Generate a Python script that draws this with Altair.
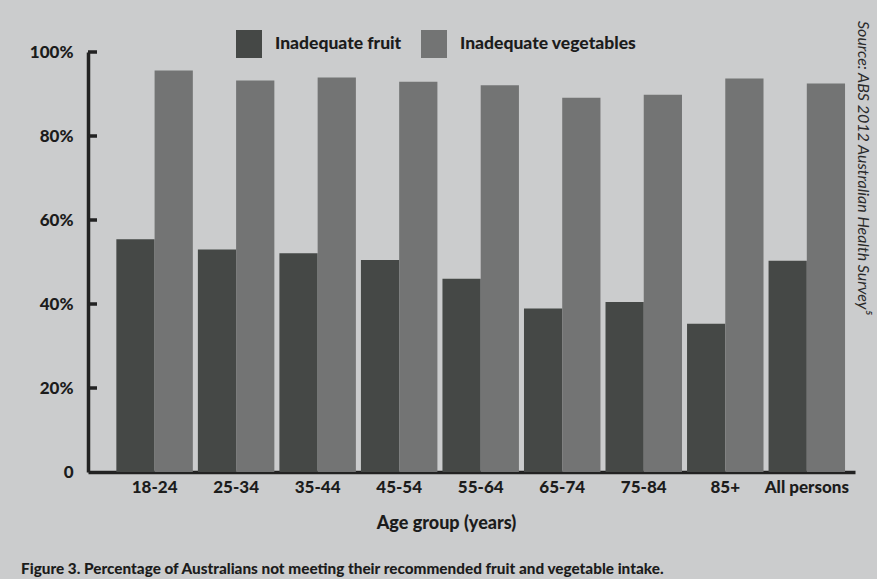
import altair as alt
import pandas as pd

age_groups = ["18-24", "25-34", "35-44", "45-54", "55-64", "65-74", "75-84", "85+", "All persons"]
fruit = [55.4, 53.0, 52.1, 50.5, 46.0, 38.9, 40.5, 35.3, 50.3]
vegetables = [95.6, 93.2, 93.9, 92.9, 92.1, 89.1, 89.8, 93.7, 92.5]
series_names = ["Inadequate fruit", "Inadequate vegetables"]
series_colors = ["#454846", "#737474"]
tick_values = [20, 40, 60, 80, 100]
caption = "Figure 3. Percentage of Australians not meeting their recommended fruit and vegetable intake."
source = "Source: ABS 2012 Australian Health Survey\u2075"

rows = []
for g, f, v in zip(age_groups, fruit, vegetables):
    rows.append({"group": g, "series": series_names[0], "value": f})
    rows.append({"group": g, "series": series_names[1], "value": v})
df = pd.DataFrame(rows)

FONT = "Lato"
W = 900
TXT = "#1c1c1c"

y_scale = alt.Scale(domain=[0, 100], nice=False)

bars = alt.Chart(df).mark_bar().encode(
    x=alt.X("group:N", sort=age_groups,
            scale=alt.Scale(paddingInner=0.062, paddingOuter=0.235, align=0.74),
            axis=alt.Axis(title="Age group (years)", labelAngle=0, ticks=False,
                          domainColor="#222222", domainWidth=3.5,
                          labelFont=FONT, labelFontWeight=W, labelFontSize=17,
                          labelColor=TXT, labelPadding=7,
                          titleFont=FONT, titleFontWeight=W, titleFontSize=18,
                          titleColor=TXT, titleX=358, titleY=56,
                          titleAlign="center", titleBaseline="alphabetic")),
    xOffset=alt.XOffset("series:N", sort=series_names,
                        scale=alt.Scale(paddingInner=0, paddingOuter=0)),
    y=alt.Y("value:Q", scale=y_scale,
            axis=alt.Axis(title=None, values=[0] + tick_values, ticks=False, grid=False,
                          domainColor="#222222", domainWidth=3.5,
                          labelExpr="datum.value == 0 ? '0' : datum.value + '%'",
                          labelFont=FONT, labelFontWeight=W, labelFontSize=17,
                          labelColor=TXT, labelPadding=15)),
    color=alt.Color("series:N", sort=series_names,
                    scale=alt.Scale(domain=series_names, range=series_colors),
                    legend=alt.Legend(title=None, orient="none", legendX=147, legendY=-22,
                                      direction="horizontal",
                                      symbolType="M-0.93,-1H0.93V1H-0.93Z",
                                      symbolSize=784, symbolStrokeWidth=0,
                                      symbolOpacity=1,
                                      labelFont=FONT, labelFontWeight=W,
                                      labelFontSize=17.5, labelColor=TXT,
                                      labelOffset=12, columnPadding=18,
                                      labelLimit=300)),
)

ticks = alt.Chart(pd.DataFrame({"v": tick_values})).mark_rule(
    color="#222222", strokeWidth=3.5
).encode(
    y=alt.Y("v:Q", scale=y_scale),
    x=alt.value(0),
    x2=alt.value(9),
)

cap = alt.Chart(pd.DataFrame({"t": [caption]})).mark_text(
    font=FONT, fontWeight=W, fontSize=15.3, color=TXT, align="left", baseline="alphabetic"
).encode(x=alt.value(-67), y=alt.value(522), text="t:N")

src = alt.Chart(pd.DataFrame({"t": [source]})).mark_text(
    font=FONT, fontStyle="italic", fontSize=16, color="#2a2a2a", align="left",
    baseline="middle", angle=90
).encode(x=alt.value(775), y=alt.value(-31), text="t:N")

chart = alt.layer(bars, ticks, cap, src).properties(
    width=767, height=420,
    padding={"left": 88, "top": 52, "right": 22, "bottom": 107},
    autosize=alt.AutoSizeParams(type="none"),
    background="#cbcccd",
).configure_view(stroke=None)

chart.save("out.html", embed_options={"renderer": "svg", "actions": False})
